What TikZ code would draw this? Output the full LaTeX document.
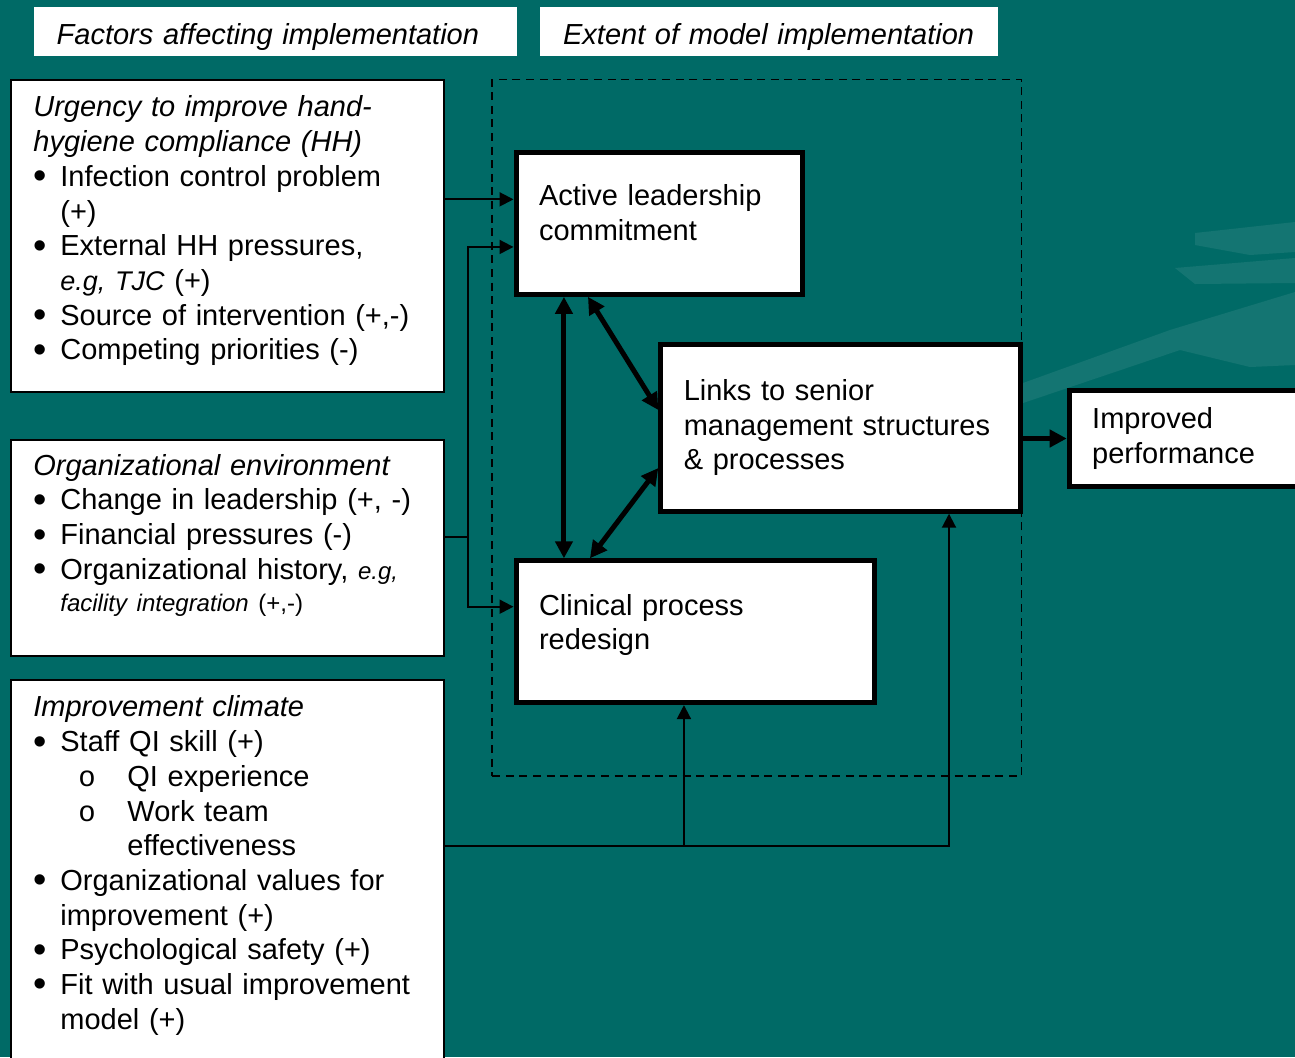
\documentclass[tikz,border=0pt]{standalone}
\usepackage{fontspec}
\setmainfont{Liberation Sans}
\newfontfamily\subfont{Liberation Mono}
\usepackage{tikz}
\usetikzlibrary{arrows.meta,positioning,calc}
\definecolor{slideteal}{HTML}{006A66}
\newcommand{\bodyfont}{\fontsize{14.5}{17.35}\selectfont}
\newcommand{\notefont}{\fontsize{12}{14}\selectfont}
\newcommand{\bul}{\makebox[13.5pt][l]{\raisebox{-1.2pt}{\fontsize{19}{19}\selectfont\textbullet}}}
\newcommand{\subbul}{\hspace*{22.5pt}\makebox[24.5pt][l]{\subfont o}}
\newcommand{\contd}{\hspace*{13.5pt}}
\newcommand{\subcontd}{\hspace*{47pt}}
\newcommand{\padbelow}[1]{\rule[-#1]{0pt}{#1}}
\tikzset{
  headbox/.style={rectangle, fill=white, anchor=north west, align=left, inner xsep=11.5pt,
                  inner ysep=0pt, minimum height=24.5pt, font=\bodyfont\itshape},
  factorbox/.style={rectangle, draw=black, line width=1pt, fill=white, anchor=north west,
                    minimum width=216.5pt},
  factortext/.style={anchor=north west, align=left, inner sep=0pt, text width=200pt, font=\bodyfont},
  modelbox/.style={rectangle, draw=black, line width=2.5pt, fill=white, anchor=north west,
                   align=left, inner xsep=11.5pt, inner ysep=0pt, font=\bodyfont},
  extentbox/.style={rectangle, draw=black, line width=0.9pt, dash pattern=on 4pt off 2.8pt,
                    anchor=north west},
  feed/.style={-{Triangle[length=7pt,width=7pt]}, line width=1pt},
  feedline/.style={line width=1pt},
  mutual/.style={{Triangle[length=8.5pt,width=8.5pt]}-{Triangle[length=8.5pt,width=8.5pt]}, line width=2.5pt},
  push/.style={-{Triangle[length=8.5pt,width=8.5pt]}, line width=2.5pt},
  swoosh/.style={fill=white, fill opacity=0.08, draw=none},
}

\begin{document}
\begin{tikzpicture}[x=0.5pt, y=-0.5pt]
    \useasboundingbox (0,0) rectangle (1295,1057);
    \clip (0,0) rectangle (1295,1057);
    \fill[slideteal] (0,0) rectangle (1295,1057);
    % background streaks
    \fill[swoosh] (1023,383) -- (1170,330) -- (1295,292) -- (1295,365) -- (1250,367)
                  -- (1180,350) -- (1023,403) -- cycle;
    \fill[swoosh] (1175,268) -- (1295,258) -- (1295,283) -- (1195,284) -- cycle;
    \fill[swoosh] (1195,233) -- (1295,222) -- (1295,252) -- (1250,255) -- (1195,245) -- cycle;

    \node[headbox, minimum width=241.6pt, text width=218.6pt] (factorshead) at (33.3,6.7)
      {\rule{0pt}{15.5pt}Factors affecting implementation};
    \node[headbox, minimum width=228.9pt, text width=205.9pt] (extenthead) at (539.7,6.7)
      {\rule{0pt}{15.5pt}Extent of model implementation};

    \node[extentbox, minimum width=264.65pt, minimum height=348.35pt] (extent) at (491.3,78.6) {};

    % factors
    \node[factorbox, minimum height=156pt] (urgency) at (9.5,78.5) {};
    \node[factortext] (urgencytext) at (33,95.5)
      {\textit{Urgency to improve hand-}\\
       \textit{hygiene compliance (HH)}\\
       \bul Infection control problem\\
       \contd (+)\\
       \bul External HH pressures,\\
       \contd{\fontsize{13.5}{16}\selectfont\textit{e.g, TJC}} (+)\\
       \bul Source of intervention (+,-)\\
       \bul Competing priorities (-)};
    \node[factorbox, minimum height=108pt] (environ) at (9.5,438.5) {};
    \node[factortext] (environtext) at (33,453.8)
      {\textit{Organizational environment}\\
       \bul Change in leadership (+, -)\\
       \bul Financial pressures (-)\\
       \bul Organizational history, {\notefont\textit{e.g,}}\\[-1.25pt]
       \contd{\notefont\textit{facility integration} (+,-)}};
    \node[factorbox, minimum height=200pt] (climate) at (9.5,678.5) {};
    \node[factortext] (climatetext) at (33,695.5)
      {\textit{Improvement climate}\\
       \bul Staff QI skill (+)\\
       \subbul QI experience\\
       \subbul Work team\\
       \subcontd effectiveness\\
       \bul Organizational values for\\
       \contd improvement (+)\\
       \bul Psychological safety (+)\\
       \bul Fit with usual improvement\\
       \contd model (+)};

    % model
    \node[modelbox, minimum height=71.15pt, text width=120.35pt] (active) at (513.5,149.5)
      {Active leadership\\commitment\padbelow{10.9pt}};
    \node[modelbox, minimum height=83.5pt, text width=156.9pt] (links) at (658.3,341.7)
      {Links to senior\\management structures\\\& processes};
    \node[modelbox, minimum height=70.9pt, text width=156.35pt] (clinical) at (513.5,558.3)
      {Clinical process\\redesign\padbelow{9.7pt}};
    \node[modelbox, minimum height=48pt, text width=97.5pt] (improved) at (1066.7,388)
      {Improved\\performance};

    % factor arrows
    \coordinate (urgtip) at ([yshift=11.9pt]active.west);
    \draw[feed] (urgency.east |- urgtip) -- (urgtip);
    \coordinate (envout) at ([yshift=5.5pt]environ.east);
    \coordinate (envsplit) at ([xshift=11.5pt]envout);
    \coordinate (envtip) at ([yshift=-11.9pt]active.west);
    \coordinate (clintip) at ([yshift=12.5pt]clinical.west);
    \draw[feedline] (envout) -- (envsplit);
    \draw[feed] (envsplit) |- (envtip);
    \draw[feed] (envsplit) |- (clintip);
    \coordinate (climout) at ([yshift=-83.85pt]climate.north east);
    \coordinate (linkstip) at ([xshift=-37.05pt]links.south east);
    \coordinate (clinbottom) at ([xshift=-5.7pt]clinical.south);
    \draw[feed] (climout) -| (linkstip);
    \draw[feed] (climout -| clinbottom) -- (clinbottom);

    % model arrows
    \coordinate (actfoot) at ([xshift=-47.7pt]active.south);
    \draw[mutual] (actfoot) -- (actfoot |- clinical.north);
    \coordinate (actdiag) at ([xshift=-35.7pt]active.south);
    \coordinate (linkupper) at ([yshift=8.85pt]links.west);
    \draw[mutual] (actdiag) -- (linkupper);
    \coordinate (clindiag) at ([xshift=-52.7pt]clinical.north);
    \coordinate (linklower) at ([yshift=-20.15pt]links.west);
    \draw[mutual] (clindiag) -- (linklower);
    \draw[push] (links.east |- improved.west) -- (improved.west);
\end{tikzpicture}
\end{document}
